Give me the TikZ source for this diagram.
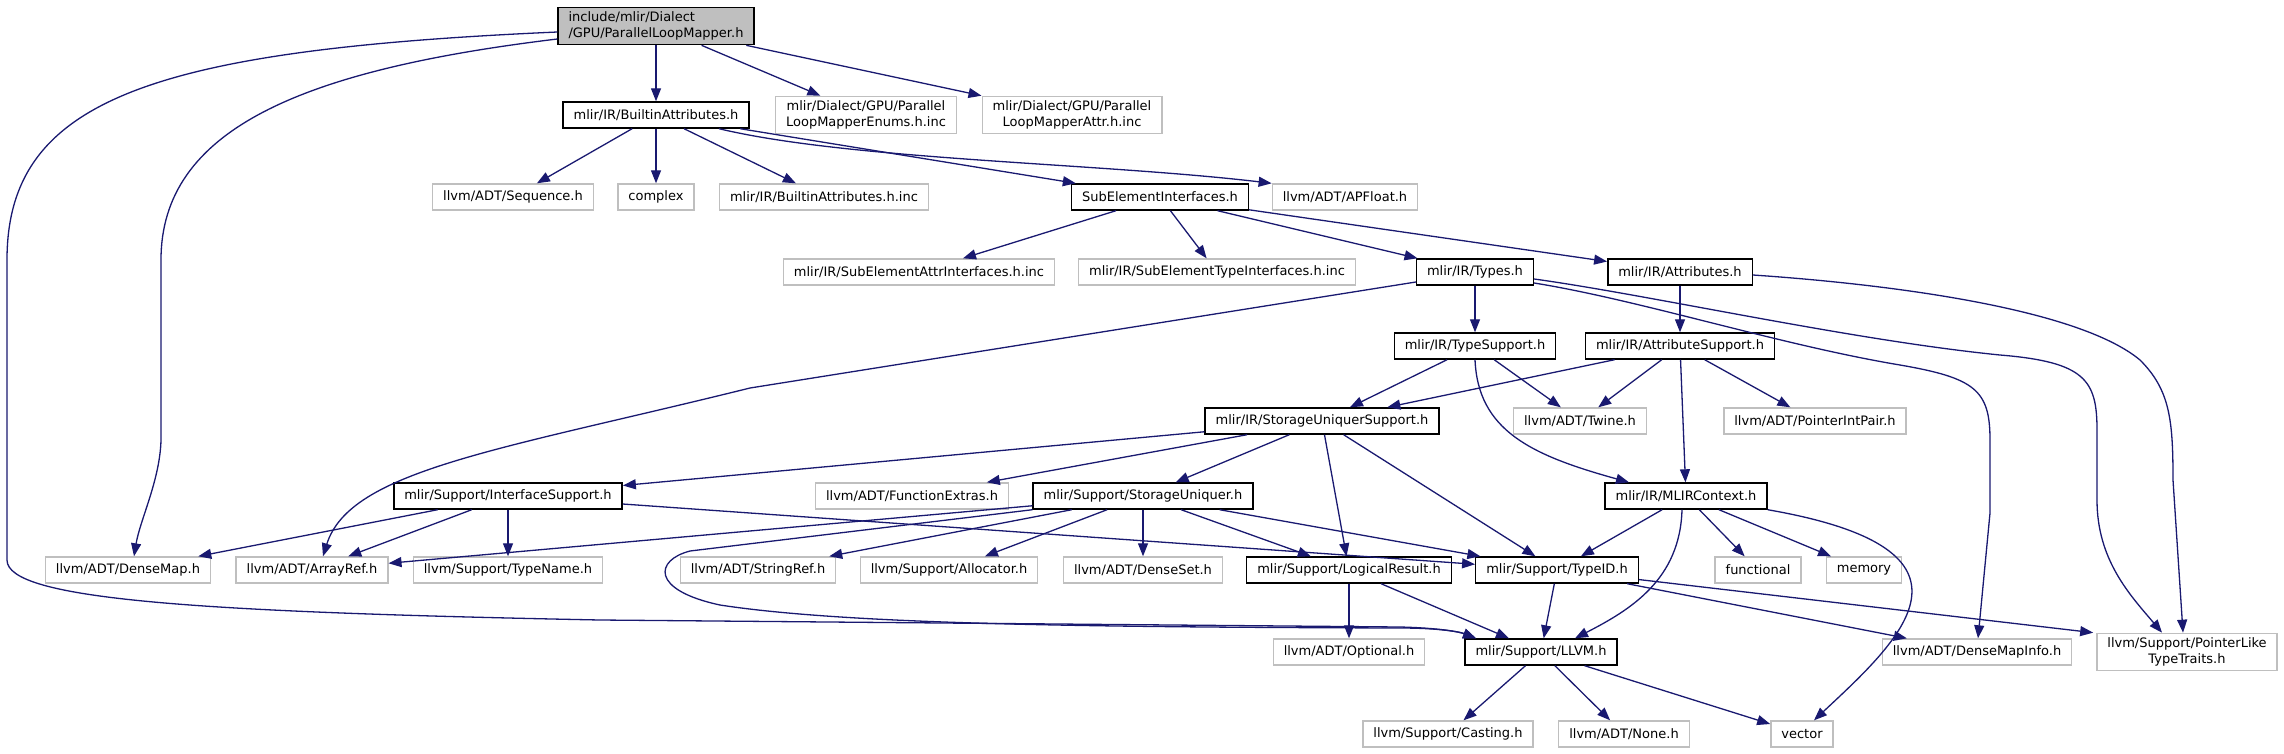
\documentclass[tikz,border=0pt]{standalone}
\usepackage{fontspec}
\setmainfont{DejaVu Sans}
\usetikzlibrary{arrows.meta}

\definecolor{edgeblue}{HTML}{191970}
\definecolor{grey75}{HTML}{BFBFBF}

\tikzset{
  filebox/.style={draw=black, line width=1.4pt, fill=white, inner xsep=10.5pt,
    inner ysep=4pt, minimum height=26pt, font=\fontsize{13}{16.7}\selectfont},
  extbox/.style={filebox, draw=grey75},
  rootbox/.style={filebox, fill=grey75, align=left},
  dep/.style={draw=edgeblue, line width=1.3pt, line join=round,
    -{Triangle[length=13pt,width=10pt]}},
}

\begin{document}
\begin{tikzpicture}[x=1pt, y=-1pt]

  \useasboundingbox (0,0) rectangle (2284,753);

  % Header being documented
  \node[rootbox] (root) at (656,26) {include/mlir/Dialect\\/GPU/ParallelLoopMapper.h};

  % Direct includes
  \node[filebox] (builtin) at (656,115) {mlir/IR/BuiltinAttributes.h};
  \node[extbox, align=center] (enumsinc) at (866,115) {mlir/Dialect/GPU/Parallel\\LoopMapperEnums.h.inc};
  \node[extbox, align=center] (attrinc) at (1072,115) {mlir/Dialect/GPU/Parallel\\LoopMapperAttr.h.inc};

  % BuiltinAttributes level
  \node[extbox] (sequence) at (513,197) {llvm/ADT/Sequence.h};
  \node[extbox] (complex) at (656,197) {complex};
  \node[extbox] (builtininc) at (824,197) {mlir/IR/BuiltinAttributes.h.inc};
  \node[filebox] (subelem) at (1160,197) {SubElementInterfaces.h};
  \node[extbox] (apfloat) at (1345,197) {llvm/ADT/APFloat.h};

  % SubElementInterfaces level
  \node[extbox] (subattrinc) at (919,272) {mlir/IR/SubElementAttrInterfaces.h.inc};
  \node[extbox] (subtypeinc) at (1217,272) {mlir/IR/SubElementTypeInterfaces.h.inc};
  \node[filebox] (types) at (1475,272) {mlir/IR/Types.h};
  \node[filebox] (attributes) at (1680,272) {mlir/IR/Attributes.h};

  % Support headers
  \node[filebox] (typesupport) at (1475,346) {mlir/IR/TypeSupport.h};
  \node[filebox] (attrsupport) at (1680,346) {mlir/IR/AttributeSupport.h};

  \node[filebox] (sus) at (1322,421) {mlir/IR/StorageUniquerSupport.h};
  \node[extbox] (twine) at (1580,421) {llvm/ADT/Twine.h};
  \node[extbox] (ptrintpair) at (1815,421) {llvm/ADT/PointerIntPair.h};

  \node[filebox] (ifacesupport) at (508,496) {mlir/Support/InterfaceSupport.h};
  \node[extbox] (funcextras) at (912,496) {llvm/ADT/FunctionExtras.h};
  \node[filebox] (uniquer) at (1143,496) {mlir/Support/StorageUniquer.h};
  \node[filebox] (mlirctx) at (1686,496) {mlir/IR/MLIRContext.h};

  % Leaf row
  \node[extbox] (densemap) at (128,570) {llvm/ADT/DenseMap.h};
  \node[extbox] (arrayref) at (312,570) {llvm/ADT/ArrayRef.h};
  \node[extbox] (typename) at (508,570) {llvm/Support/TypeName.h};
  \node[extbox] (stringref) at (758,570) {llvm/ADT/StringRef.h};
  \node[extbox] (allocator) at (949,570) {llvm/Support/Allocator.h};
  \node[extbox] (denseset) at (1143,570) {llvm/ADT/DenseSet.h};
  \node[filebox] (logical) at (1349,570) {mlir/Support/LogicalResult.h};
  \node[filebox] (typeid) at (1557,570) {mlir/Support/TypeID.h};
  \node[extbox] (functional) at (1758,570) {functional};
  \node[extbox] (memory) at (1864,570) {memory};

  \node[extbox] (optional) at (1349,652) {llvm/ADT/Optional.h};
  \node[filebox] (llvm) at (1541,652) {mlir/Support/LLVM.h};
  \node[extbox] (densemapinfo) at (1977,652) {llvm/ADT/DenseMapInfo.h};
  \node[extbox, align=center] (ptrlike) at (2187,652) {llvm/Support/PointerLike\\TypeTraits.h};

  \node[extbox] (casting) at (1448,734) {llvm/Support/Casting.h};
  \node[extbox] (none) at (1624,734) {llvm/ADT/None.h};
  \node[extbox] (vector) at (1802,734) {vector};

  % Straight includes
  \foreach \a/\b in {root/builtin, root/enumsinc, root/attrinc,
      builtin/sequence, builtin/complex, builtin/builtininc, builtin/subelem,
      subelem/subattrinc, subelem/subtypeinc, subelem/types, subelem/attributes,
      types/typesupport, attributes/attrsupport,
      typesupport/sus, typesupport/twine,
      attrsupport/sus, attrsupport/twine, attrsupport/ptrintpair, attrsupport/mlirctx,
      sus/ifacesupport, sus/funcextras, sus/uniquer, sus/logical, sus/typeid,
      ifacesupport/densemap, ifacesupport/arrayref, ifacesupport/typename, ifacesupport/typeid,
      uniquer/arrayref, uniquer/stringref, uniquer/allocator, uniquer/denseset,
      uniquer/logical, uniquer/typeid,
      mlirctx/typeid, mlirctx/functional, mlirctx/memory,
      logical/optional, logical/llvm,
      typeid/llvm, typeid/densemapinfo,
      llvm/casting, llvm/none, llvm/vector} {
    \draw[dep] (\a) -- (\b);
  }
  \draw[dep] (typeid) -- ([xshift=-3pt]ptrlike.north west);

  % Curved includes
  \draw[dep] ([xshift=63pt]builtin.south) .. controls (850,160) and (1100,163) .. (apfloat.north west);
  \draw[dep] ([yshift=-13pt]root.west) .. controls (300,70) and (161,130) .. (161,260)
    -- (161,440) .. controls (160,480) and (140,520) .. ([xshift=6pt]densemap.north);
  \draw[dep] ([yshift=-6pt]root.west) .. controls (150,50) and (7,100) .. (7,260)
    -- (7,560) .. controls (7,600) and (200,612) .. (600,620)
    -- (1400,627) .. controls (1440,628) and (1460,632) .. ([xshift=-65pt]llvm.north);
  \draw[dep] (uniquer.south west) -- (690,551) .. controls (655,560) and (650,590) .. (720,605)
    .. controls (850,625) and (1100,627) .. (1400,628)
    .. controls (1440,628) and (1460,632) .. ([xshift=-65pt]llvm.north);
  \draw[dep] ([yshift=-10pt]types.west) -- (750,388) .. controls (500,450) and (350,470) .. ([xshift=11pt]arrayref.north);
  \draw[dep] ([yshift=-11pt]types.east) .. controls (1640,300) and (1780,345) .. (1900,365)
    .. controls (1975,378) and (1990,390) .. (1990,440) -- (1990,513) -- ([xshift=1pt]densemapinfo.north);
  \draw[dep] ([yshift=-7pt]types.east) .. controls (1650,295) and (1850,340) .. (2000,355)
    .. controls (2085,362) and (2097,380) .. (2097,430) -- (2097,500)
    .. controls (2097,560) and (2130,595) .. ([xshift=-25pt]ptrlike.north);
  \draw[dep] ([yshift=-3pt]attributes.east) .. controls (1900,285) and (2080,310) .. (2140,360)
    .. controls (2170,390) and (2173,420) .. (2173,480) -- ([xshift=-4pt]ptrlike.north);
  \draw[dep] (typesupport.south) .. controls (1478,430) and (1530,455) .. ([xshift=-57pt]mlirctx.north);
  \draw[dep] ([xshift=-4pt]mlirctx.south) .. controls (1680,580) and (1630,610) .. ([xshift=34pt]llvm.north);
  \draw[dep] (mlirctx.south east) .. controls (2000,550) and (1900,640) .. ([xshift=12pt]vector.north);

\end{tikzpicture}
\end{document}
